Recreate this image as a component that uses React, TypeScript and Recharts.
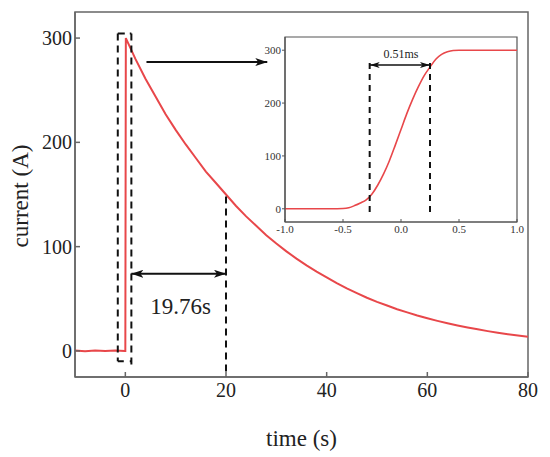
import { LineChart, Line, XAxis, YAxis, ReferenceArea, ReferenceLine, ReferenceDot } from 'recharts';

const FONT = "'Liberation Serif', 'Times New Roman', serif";
const RED = "#e8474a";
const INK = "#111";

// main trace: time (s) vs current (A)
const mainTime = [-10, -8, -6, -4, -2, -0.1, 0, 0.1, 2, 4, 6, 8, 10, 12, 14, 16, 18, 20, 22, 24, 26, 28, 30, 32, 34, 36, 38, 40, 42, 44, 46, 48, 50, 52, 54, 56, 58, 60, 62, 64, 66, 68, 70, 72, 74, 76, 78, 80];
const mainCurrent = [0.3, -0.3, 0.4, 0, 0.3, 0, 0, 300, 280, 261, 244, 227, 212, 198, 185, 172, 161, 150, 139, 129, 120, 111, 103, 95.5, 88.5, 82, 76, 70.5, 65, 60, 55.5, 51, 47, 43.5, 40, 37, 34, 31.3, 28.8, 26.5, 24.4, 22.5, 20.7, 19, 17.5, 16.1, 14.8, 13.6];
const mainXTicks = [0, 20, 40, 60, 80];
const mainYTicks = [0, 100, 200, 300];

// inset trace: time (ms) vs current (A)
const insetTime = [-1, -0.8, -0.6, -0.5, -0.45, -0.4, -0.35, -0.3, -0.25, -0.2, -0.15, -0.1, -0.05, 0, 0.05, 0.1, 0.15, 0.2, 0.25, 0.3, 0.35, 0.4, 0.45, 0.5, 0.6, 0.8, 1];
const insetCurrent = [0, 0, 0, 0.5, 2, 6, 11, 17, 28, 45, 66, 91, 120, 150, 180, 207, 231, 252, 268, 283, 292, 297, 299.5, 300, 300, 300, 300];
const insetXTicks = [-1, -0.5, 0, 0.5, 1];
const insetYTicks = [0, 100, 200, 300];

// annotation positions (data units)
const boxLeft = -1.5;
const boxRight = 1.2;
const boxTop = 304.5;
const boxBottom = -10;
const halfTime = 20;
const halfCurrent = 148;
const spanArrowY = 74;
const spanLabel = "19.76s";
const zoomArrow = { y: 277, from: 4.2, to: 28.2 };
const riseStart = -0.27;
const riseEnd = 0.25;
const riseLabel = "0.51ms";

const mainData = mainTime.map((t, i) => ({ t, i: mainCurrent[i] }));
const insetData = insetTime.map((t, i) => ({ t, i: insetCurrent[i] }));

const YTitle = () => (
  <text x={28} y={196} transform="rotate(-90, 28, 196)" textAnchor="middle" fontSize={23} fontFamily={FONT} fill="#222">
    current (A)
  </text>
);

const App = () => {
  return (
    <div style={{ position: 'absolute', left: 0, top: 0, width: 550, height: 457, background: '#fff' }}>
      <LineChart width={550} height={457} data={mainData} margin={{ top: 12, right: 22, bottom: 0, left: 0 }}>
        <defs>
          <marker id="headMain" viewBox="0 0 12 8" refX="12" refY="4" markerWidth="12" markerHeight="8" markerUnits="userSpaceOnUse" orient="auto-start-reverse">
            <path d="M0,0 L12,4 L0,8 L3,4 z" fill={INK} />
          </marker>
        </defs>
        <XAxis
          dataKey="t"
          type="number"
          domain={[-10, 80]}
          ticks={mainXTicks}
          height={80}
          tickSize={-5}
          tickMargin={11}
          axisLine={{ stroke: '#666', strokeWidth: 1.5 }}
          tickLine={{ stroke: '#666', strokeWidth: 1.5 }}
          tick={{ fontSize: 20, fill: '#222', fontFamily: FONT }}
          label={{ value: 'time (s)', position: 'insideBottom', offset: 11, fontSize: 23, fill: '#222', fontFamily: FONT }}
          allowDataOverflow
        />
        <YAxis
          type="number"
          domain={[-25, 325]}
          ticks={mainYTicks}
          width={75}
          tickSize={-5}
          tickMargin={8}
          axisLine={{ stroke: '#666', strokeWidth: 1.5 }}
          tickLine={{ stroke: '#666', strokeWidth: 1.5 }}
          tick={{ fontSize: 20, fill: '#222', fontFamily: FONT }}
          label={YTitle}
          allowDataOverflow
        />
        <ReferenceArea x1={-10} x2={80} y1={-25} y2={325} fill="none" stroke="#666" strokeWidth={1.5} />
        <Line type="linear" dataKey="i" stroke={RED} strokeWidth={2} dot={false} isAnimationActive={false} />

        <ReferenceLine segment={[{ x: boxLeft, y: boxTop }, { x: boxLeft, y: boxBottom }]} stroke={INK} strokeWidth={2} strokeDasharray="7 5" />
        <ReferenceLine segment={[{ x: boxRight, y: boxTop }, { x: boxRight, y: -17.7 }]} stroke={INK} strokeWidth={2} strokeDasharray="7 5" />
        <ReferenceLine segment={[{ x: boxLeft, y: boxTop }, { x: boxRight, y: boxTop }]} stroke={INK} strokeWidth={2} strokeDasharray="7 5" />
        <ReferenceLine segment={[{ x: boxLeft, y: boxBottom }, { x: boxRight, y: boxBottom }]} stroke={INK} strokeWidth={2} strokeDasharray="6 6" />
        <ReferenceLine segment={[{ x: halfTime, y: halfCurrent }, { x: halfTime, y: -25 }]} stroke={INK} strokeWidth={2} strokeDasharray="7 5" />
        <ReferenceLine
          segment={[{ x: boxRight, y: spanArrowY }, { x: halfTime, y: spanArrowY }]}
          stroke={INK}
          strokeWidth={2}
          markerStart="url(#headMain)"
          markerEnd="url(#headMain)"
        />
        <ReferenceLine
          segment={[{ x: zoomArrow.from, y: zoomArrow.y }, { x: zoomArrow.to, y: zoomArrow.y }]}
          stroke={INK}
          strokeWidth={2}
          markerEnd="url(#headMain)"
        />
        <ReferenceDot
          x={11}
          y={43}
          r={0}
          fill="none"
          stroke="none"
          label={{ value: spanLabel, position: 'center', fontSize: 23, fill: '#222', fontFamily: FONT }}
        />
      </LineChart>

      <div style={{ position: 'absolute', left: 250, top: 30 }}>
        <LineChart width={275} height={215} data={insetData} margin={{ top: 7, right: 8, bottom: 0, left: 0 }}>
          <defs>
            <marker id="headInset" viewBox="0 0 10 6" refX="10" refY="3" markerWidth="10" markerHeight="6" markerUnits="userSpaceOnUse" orient="auto-start-reverse">
              <path d="M0,0 L10,3 L0,6 L2.5,3 z" fill={INK} />
            </marker>
          </defs>
          <XAxis
            dataKey="t"
            type="number"
            domain={[-1, 1]}
            ticks={insetXTicks}
            tickFormatter={(v: number) => v.toFixed(1)}
            height={23}
            tickSize={-3}
            tickMargin={6}
            axisLine={{ stroke: '#555', strokeWidth: 1.2 }}
            tickLine={{ stroke: '#555' }}
            tick={{ fontSize: 11, fill: '#333', fontFamily: FONT }}
            interval={0}
            allowDataOverflow
          />
          <YAxis
            type="number"
            domain={[-25, 325]}
            ticks={insetYTicks}
            width={35}
            tickSize={3}
            tickMargin={1}
            axisLine={{ stroke: '#555', strokeWidth: 1.2 }}
            tickLine={{ stroke: '#555' }}
            tick={{ fontSize: 11, fill: '#333', fontFamily: FONT }}
            allowDataOverflow
          />
          <ReferenceArea x1={-1} x2={1} y1={-25} y2={325} fill="none" stroke="#555" strokeWidth={1.2} />
          <Line type="monotone" dataKey="i" stroke={RED} strokeWidth={1.6} dot={false} isAnimationActive={false} />
          <ReferenceLine segment={[{ x: riseStart, y: 276 }, { x: riseStart, y: -13 }]} stroke={INK} strokeWidth={2} strokeDasharray="6 5" />
          <ReferenceLine segment={[{ x: riseEnd, y: 276 }, { x: riseEnd, y: -13 }]} stroke={INK} strokeWidth={2} strokeDasharray="6 5" />
          <ReferenceLine
            segment={[{ x: riseStart, y: 272 }, { x: riseEnd, y: 272 }]}
            stroke={INK}
            strokeWidth={1.5}
            markerStart="url(#headInset)"
            markerEnd="url(#headInset)"
          />
          <ReferenceDot
            x={0}
            y={293}
            r={0}
            fill="none"
            stroke="none"
            label={{ value: riseLabel, position: 'center', fontSize: 12, fill: '#222', fontFamily: FONT }}
          />
        </LineChart>
      </div>
    </div>
  );
};

export default App;
